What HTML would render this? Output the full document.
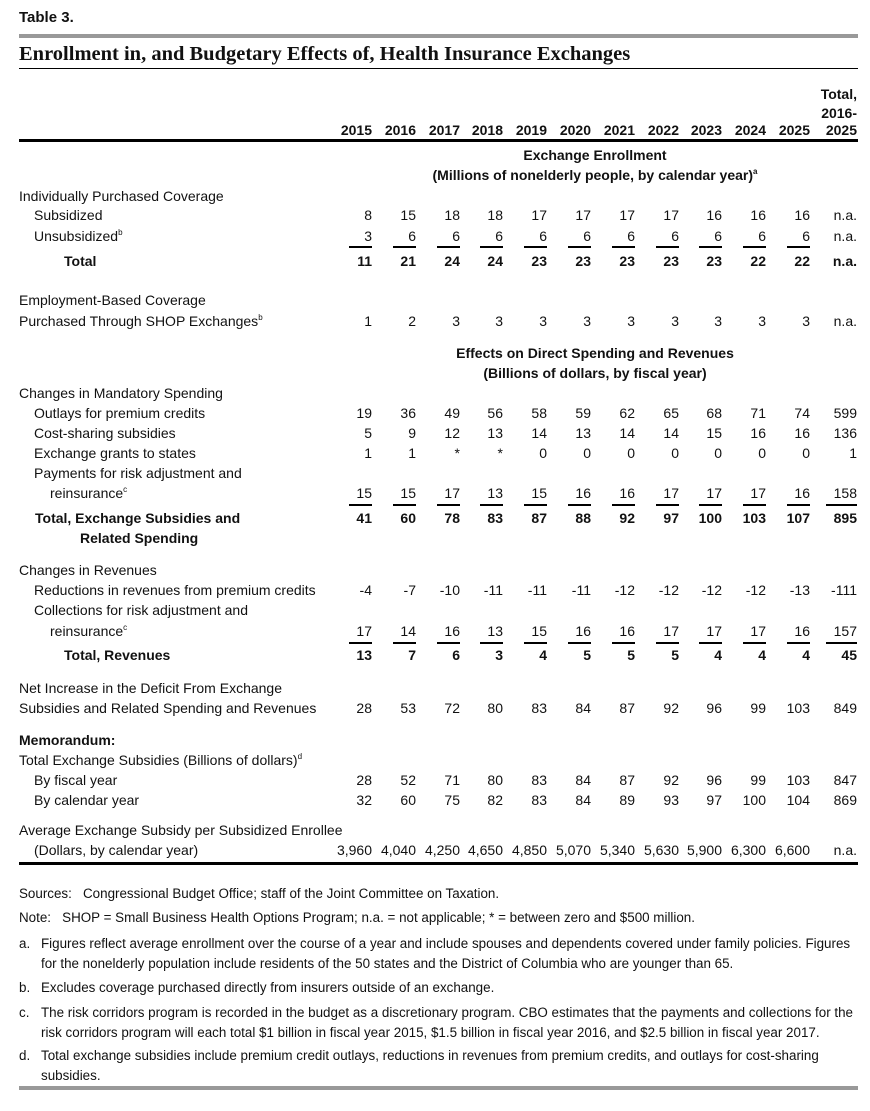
<!DOCTYPE html>
<html><head><meta charset="utf-8"><style>
body{margin:0;background:#fff;width:870px;height:1111px;position:relative;overflow:hidden;font-family:"Liberation Sans Narrow","Liberation Sans",sans-serif;color:#111;font-size:14px}
.t{position:absolute;white-space:nowrap;line-height:16px}
.b{font-weight:bold}
.r{text-align:right}
.ln{position:absolute;background:#000}
sup{font-size:8px;line-height:0;vertical-align:6px}
</style></head><body>
<div class="t b" style="left:19px;top:10px;font-family:'Liberation Sans',sans-serif;font-size:15px">Table 3.</div>
<div class="ln" style="left:19px;top:34px;width:839px;height:4px;background:#999"></div>
<div class="t b" style="left:19px;top:43px;font-family:'Liberation Serif',serif;font-size:20.5px;line-height:22px">Enrollment in, and Budgetary Effects of, Health Insurance Exchanges</div>
<div class="ln" style="left:19px;top:68px;width:839px;height:1px"></div>
<div class="ln" style="left:19px;top:139px;width:839px;height:3px"></div>
<div class="ln" style="left:19px;top:862px;width:839px;height:3px"></div>
<div class="ln" style="left:19px;top:1086px;width:839px;height:4px;background:#999"></div>
<div id="c"></div>
<script>
var R=[372,416,460,503,547,591,635,679,722,766,810,857];
var h='';
function T(x,y,s,cls,extra){h+='<div class="t '+(cls||'')+'" style="left:'+x+'px;top:'+(y-8)+'px;'+(extra||'')+'">'+s+'</div>';}
function row(y,vals,bold){vals.split(' ').forEach(function(v,i){h+='<div class="t r'+(bold?' b':'')+'" style="right:'+(870-R[i])+'px;top:'+(y-8)+'px">'+v+'</div>';});}
function ul(y){R.forEach(function(r,i){var w=i==11?31:23;h+='<div class="ln" style="left:'+(r-w)+'px;top:'+y+'px;width:'+w+'px;height:2px"></div>';});}
h+='<div class="t r b" style="right:13px;top:86px">Total,</div>';
h+='<div class="t r b" style="right:13px;top:105px">2016-</div>';
row(130,'2015 2016 2017 2018 2019 2020 2021 2022 2023 2024 2025 2025',true);
function ctr(y,s,bold){h+='<div class="t'+(bold?' b':'')+'" style="left:350px;width:490px;text-align:center;top:'+(y-8)+'px">'+s+'</div>';}
ctr(155,'Exchange Enrollment',1);ctr(175,'(Millions of nonelderly people, by calendar year)<sup>a</sup>',1);
T(19,196,'Individually Purchased Coverage');
T(34,215,'Subsidized');row(215,'8 15 18 18 17 17 17 17 16 16 16 n.a.');
T(34,236,'Unsubsidized<sup>b</sup>');row(236,'3 6 6 6 6 6 6 6 6 6 6 n.a.');
R.slice(0,11).forEach(function(r){h+='<div class="ln" style="left:'+(r-23)+'px;top:246px;width:23px;height:2px"></div>';});
T(64,261,'Total','b');row(261,'11 21 24 24 23 23 23 23 23 22 22 n.a.',true);
T(19,300,'Employment-Based Coverage');
T(19,321,'Purchased Through SHOP Exchanges<sup>b</sup>');row(321,'1 2 3 3 3 3 3 3 3 3 3 n.a.');
ctr(353,'Effects on Direct Spending and Revenues',1);ctr(373,'(Billions of dollars, by fiscal year)',1);
T(19,393,'Changes in Mandatory Spending');
T(34,413,'Outlays for premium credits');row(413,'19 36 49 56 58 59 62 65 68 71 74 599');
T(34,433,'Cost-sharing subsidies');row(433,'5 9 12 13 14 13 14 14 15 16 16 136');
T(34,453,'Exchange grants to states');row(453,'1 1 * * 0 0 0 0 0 0 0 1');
T(34,473,'Payments for risk adjustment and');
T(50,493,'reinsurance<sup>c</sup>');row(493,'15 15 17 13 15 16 16 17 17 17 16 158');
ul(504);
T(35,518,'Total, Exchange Subsidies and','b');row(518,'41 60 78 83 87 88 92 97 100 103 107 895',true);
T(80,538,'Related Spending','b');
T(19,570,'Changes in Revenues');
T(34,590,'Reductions in revenues from premium credits');row(590,'-4 -7 -10 -11 -11 -11 -12 -12 -12 -12 -13 -111');
T(34,610,'Collections for risk adjustment and');
T(50,631,'reinsurance<sup>c</sup>');row(631,'17 14 16 13 15 16 16 17 17 17 16 157');
ul(642);
T(64,655,'Total, Revenues','b');row(655,'13 7 6 3 4 5 5 5 4 4 4 45',true);
T(19,688,'Net Increase in the Deficit From Exchange');
T(19,708,'Subsidies and Related Spending and Revenues');row(708,'28 53 72 80 83 84 87 92 96 99 103 849');
T(19,740,'Memorandum:','b');
T(19,760,'Total Exchange Subsidies (Billions of dollars)<sup>d</sup>');
T(34,780,'By fiscal year');row(780,'28 52 71 80 83 84 87 92 96 99 103 847');
T(34,800,'By calendar year');row(800,'32 60 75 82 83 84 89 93 97 100 104 869');
T(19,830,'Average Exchange Subsidy per Subsidized Enrollee');
T(34,850,'(Dollars, by calendar year)');row(850,'3,960 4,040 4,250 4,650 4,850 5,070 5,340 5,630 5,900 6,300 6,600 n.a.');
var fs='font-size:13.4px';
T(19,894,'Sources:&nbsp;&nbsp;&nbsp;Congressional Budget Office; staff of the Joint Committee on Taxation.','',fs);
T(19,918,'Note:&nbsp;&nbsp;&nbsp;SHOP = Small Business Health Options Program; n.a. = not applicable; * = between zero and $500 million.','',fs);
function fn(y,l,lines){T(19,y,l,'',fs);lines.forEach(function(s,i){T(41,y+20*i,s,'',fs);});}
fn(944,'a.',['Figures reflect average enrollment over the course of a year and include spouses and dependents covered under family policies. Figures','for the nonelderly population include residents of the 50 states and the District of Columbia who are younger than 65.']);
fn(988,'b.',['Excludes coverage purchased directly from insurers outside of an exchange.']);
fn(1013,'c.',['The risk corridors program is recorded in the budget as a discretionary program. CBO estimates that the payments and collections for the','risk corridors program will each total $1 billion in fiscal year 2015, $1.5 billion in fiscal year 2016, and $2.5 billion in fiscal year 2017.']);
fn(1056,'d.',['Total exchange subsidies include premium credit outlays, reductions in revenues from premium credits, and outlays for cost-sharing','subsidies.']);
document.getElementById('c').innerHTML=h;
</script>
</body></html>
